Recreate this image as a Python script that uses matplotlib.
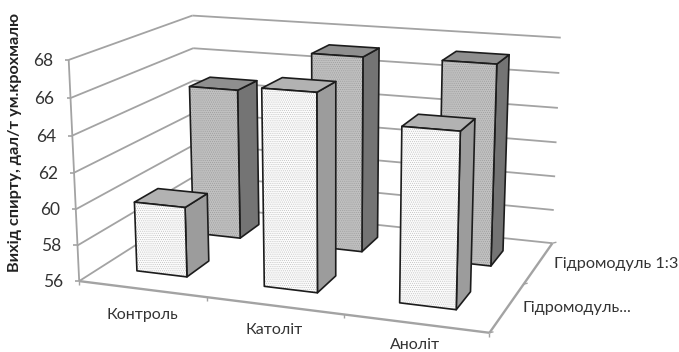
import numpy as np
import matplotlib
matplotlib.use("Agg")
import matplotlib.pyplot as plt
from matplotlib.patches import Polygon

plt.rcParams['font.family'] = ['Lato', 'Open Sans', 'DejaVu Sans']
plt.rcParams['hatch.linewidth'] = 0.4

categories = ["Контроль", "Католіт", "Аноліт"]
series_names = ["Гідромодуль...", "Гідромодуль 1:3"]
front_vals = [59.9, 66.7, 65.3]
back_vals = [64.8, 67.2, 67.3]
z_ticks = [56, 58, 60, 62, 64, 66, 68]

# frame anchors: (category pos, series pos, value) -> pixel
anchors = [((0, 0, 56), (79, 281)), ((3, 0, 56), (489, 331)),
           ((3, 2, 56), (552, 244)), ((0, 2, 56), (198, 205)),
           ((0, 0, 68), (70, 59)), ((3, 2, 68), (561, 38)),
           ((0, 2, 68), (191, 16)), ((1, 0, 56), (207, 299)),
           ((2, 0, 56), (343, 316)), ((3, 1, 56), (525, 283))]

# fit a perspective camera to the frame
A = []
b = []
for (x, y, z), (u, v) in anchors:
    A.append([x, y, z, 1, 0, 0, 0, 0, -u * x, -u * y, -u * z])
    b.append(u)
    A.append([0, 0, 0, 0, x, y, z, 1, -v * x, -v * y, -v * z])
    b.append(v)
cam = np.linalg.lstsq(np.array(A, float), np.array(b, float), rcond=None)[0]
cam = np.append(cam, 1).reshape(3, 4)


def proj(x, y, z):
    p = cam @ np.array([x, y, z, 1.0])
    return p[0] / p[2], p[1] / p[2]


fig = plt.figure(figsize=(6.79, 3.52), dpi=100)
ax = fig.add_axes([0, 0, 1, 1])
ax.set_xlim(0, 679)
ax.set_ylim(352, 0)
ax.axis("off")

grid_col = "#a3a3a3"
text_col = "#333333"


def line(p, q, lw=1.5):
    ax.plot([p[0], q[0]], [p[1], q[1]], color=grid_col, lw=lw, solid_capstyle="butt", zorder=1)


# walls
for z in z_ticks:
    line(proj(0, 0, z), proj(0, 2, z), 1.3)
    line(proj(0, 2, z), proj(3, 2, z), 1.3)
    a = proj(0, 0, z)
    line((a[0] - 4, a[1]), a, 1.2)
    ax.text(a[0] - 26, a[1] + 1, str(z), ha="center", va="center", fontsize=12.5, color=text_col)

# floor edges
line(proj(0, 0, 56), proj(0, 0, 68), 1.3)
line(proj(0, 0, 56), proj(3, 0, 56), 1.7)
line(proj(3, 0, 56), proj(3, 2, 56), 1.7)
for i in range(4):
    a = proj(i, 0, 56)
    line(a, (a[0], a[1] + 4), 1.0)
for j in range(3):
    a = proj(3, j, 56)
    line(a, (a[0] + 4, a[1] - 1), 1.0)


def face(pts, color, dots=None):
    pts = [proj(*p) for p in pts]
    ax.add_patch(Polygon(pts, closed=True, facecolor=color, edgecolor="none", zorder=3))
    if dots:
        ax.add_patch(Polygon(pts, closed=True, facecolor="none", edgecolor=dots, hatch="........",
                             lw=0, zorder=3))
    ax.add_patch(Polygon(pts, closed=True, facecolor="none", edgecolor="#1c1c1c", lw=1.2,
                         joinstyle="round", zorder=3))


def bar(i, yc, val, front, top, side, dots):
    w = 0.2
    d = 0.19
    x0, x1 = i + 0.485 - w, i + 0.485 + w
    y0, y1 = yc - d, yc + d
    face([(x1, y0, 56), (x1, y1, 56), (x1, y1, val), (x1, y0, val)], side)
    face([(x0, y0, val), (x1, y0, val), (x1, y1, val), (x0, y1, val)], top)
    face([(x0, y0, 56), (x1, y0, 56), (x1, y0, val), (x0, y0, val)], front, dots)


for i, v in enumerate(back_vals):
    bar(i, 1.5, v, "#c0c0c0", "#8f8f8f", "#747474", "#9a9a9a")
for i, v in enumerate(front_vals):
    bar(i, 0.53, v, "#fbfbfb", "#b2b2b2", "#9c9c9c", "#bdbdbd")

# labels
label_dy = [30, 28, 26]
for i, c in enumerate(categories):
    a = proj(i + 0.5, 0, 56)
    ax.text(a[0], a[1] + label_dy[i], c, ha="center", va="baseline", fontsize=11.5, color=text_col)
for j, s in enumerate(series_names):
    a = proj(3, j + 0.5, 56)
    ax.text(a[0] + 15, a[1] + 1, s, ha="left", va="center", fontsize=11.7, color=text_col)

ax.text(15, 142, "Вихід спирту, дал/т ум.крохмалю", rotation=90, ha="center", va="center",
        fontsize=11.7, fontweight="bold", color="#222222")

fig.savefig("out.png", dpi=100)
